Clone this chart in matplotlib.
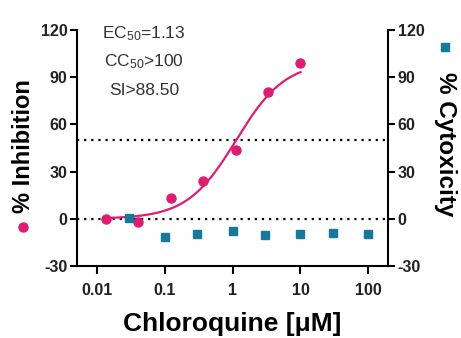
import numpy as np
import matplotlib
matplotlib.use("Agg")
import matplotlib.pyplot as plt

plt.rcParams['font.family'] = ['Liberation Sans', 'DejaVu Sans']
plt.rcParams['mathtext.fontset'] = 'custom'
plt.rcParams['mathtext.rm'] = 'Liberation Sans'
plt.rcParams['mathtext.it'] = 'Liberation Sans'
plt.rcParams['axes.unicode_minus'] = False

# Data
inh_conc = [0.0137, 0.041, 0.123, 0.37, 1.11, 3.33, 10]
inh_vals = [0.0, -2.2, 13.4, 24.0, 43.7, 80.5, 99.0]
cyt_conc = [0.03, 0.1, 0.3, 1, 3, 10, 30, 100]
cyt_vals = [0.7, -11.4, -9.7, -7.5, -10.5, -9.7, -9.2, -9.7]
ec50 = 1.13
hill = 1.2
top = 100.0
bottom = 0.0
yticks = [-30, 0, 30, 60, 90, 120]
xticks = [0.01, 0.1, 1, 10, 100]
xticklabels = ['0.01', '0.1', '1', '10', '100']

pink = '#DE1C72'
teal = '#17789A'

fig = plt.figure(figsize=(4.61, 3.38), dpi=100)
ax = fig.add_axes([77/461, 1-266/338, (388-77)/461, (266-30)/338])
ax2 = ax.twinx()

xlim = (0.0051, 195)
ax.set_xscale('log')
ax.set_xlim(*xlim)
ax.set_ylim(-30, 120)
ax2.set_ylim(-30, 120)

# dotted reference lines
for yv in (0, 50):
    ax.axhline(yv, color='black', linestyle=(0, (1, 2.2)), linewidth=1.6, zorder=1)

# fitted curve
xc = np.logspace(np.log10(inh_conc[0]), np.log10(inh_conc[-1]), 200)
yc = bottom + (top - bottom) / (1 + (ec50 / xc) ** hill)
ax.plot(xc, yc, color=pink, linewidth=1.6, zorder=2)
ax.plot(inh_conc, inh_vals, 'o', color=pink, markersize=6.5, zorder=3)
ax2.plot(cyt_conc, cyt_vals, 's', color=teal, markersize=6, zorder=3)

for a in (ax, ax2):
    a.spines['top'].set_visible(False)
    for s in a.spines.values():
        s.set_linewidth(1.5)
ax.spines['right'].set_visible(False)
ax2.spines['left'].set_visible(False)
ax2.spines['bottom'].set_visible(False)

ax.set_yticks(yticks)
ax2.set_yticks(yticks)
ax.set_xticks(xticks)
ax.set_xticklabels(xticklabels)
ax.xaxis.set_minor_locator(matplotlib.ticker.NullLocator())
ax.tick_params(axis='both', which='major', direction='out', length=5, width=1.5,
               labelsize=11.5, pad=2)
ax.tick_params(axis='x', pad=6, length=6)
ax2.tick_params(axis='y', direction='out', length=5, width=1.5, labelsize=11.5, pad=2)
for lab in ax.get_xticklabels() + ax.get_yticklabels() + ax2.get_yticklabels():
    lab.set_fontweight('bold')
    lab.set_color('#222222')

ax.set_xlabel('Chloroquine [μM]', fontsize=19, fontweight='bold', labelpad=10)

# y labels with markers
fig.text(23/461, 1-146/338, '% Inhibition', rotation=90, fontsize=17, fontweight='bold',
         ha='center', va='center')
fig.text(445/461, 1-144/338, '% Cytoxicity', rotation=270, fontsize=17.5, fontweight='bold',
         ha='center', va='center')
fig.lines.append(matplotlib.lines.Line2D([23/461], [1-227/338], transform=fig.transFigure,
                                         marker='o', color=pink, markersize=6.5, linestyle='none'))
fig.lines.append(matplotlib.lines.Line2D([445/461], [1-47/338], transform=fig.transFigure,
                                         marker='s', color=teal, markersize=6, linestyle='none'))

# annotation
ax.text(0.215, 0.985, 'EC$_{50}$=1.13', transform=ax.transAxes, ha='center', va='center',
        fontsize=12.5, color='#333333')
ax.text(0.215, 0.865, 'CC$_{50}$>100', transform=ax.transAxes, ha='center', va='center',
        fontsize=12.5, color='#333333')
ax.text(0.215, 0.745, 'SI>88.50', transform=ax.transAxes, ha='center', va='center',
        fontsize=12.5, color='#333333')

fig.savefig('out.png', dpi=100)
